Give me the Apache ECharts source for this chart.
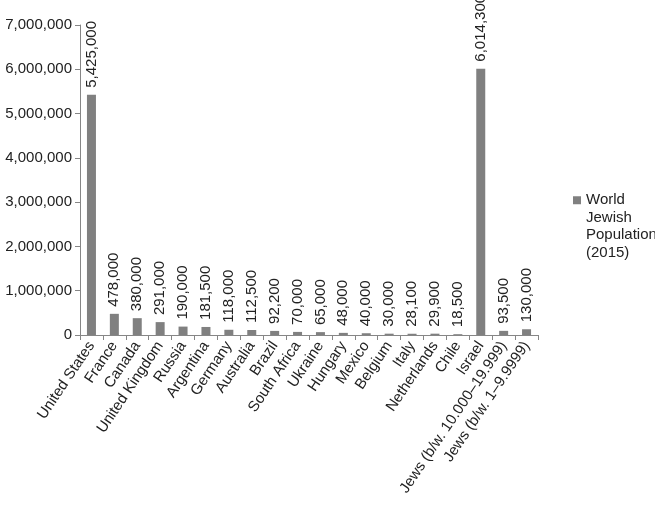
<!DOCTYPE html>
<html><head><meta charset="utf-8">
<script src="https://cdn.jsdelivr.net/npm/echarts@6/dist/echarts.min.js"></script>
<style>html,body{margin:0;padding:0;background:#fff}#c{width:655px;height:508px}</style>
</head><body><div id="c"></div>
<script>
const categories = ["United States","France","Canada","United Kingdom","Russia","Argentina","Germany","Australia","Brazil","South Africa","Ukraine","Hungary","Mexico","Belgium","Italy","Netherlands","Chile","Israel","Jews (b/w. 10.000\u201319.999)","Jews (b/w. 1\u20139.9999)"];
const population = [5425000,478000,380000,291000,190000,181500,118000,112500,92200,70000,65000,48000,40000,30000,28100,29900,18500,6014300,93500,130000];
const seriesName = "World Jewish Population (2015)";
const legendLines = ["World","Jewish","Population","(2015)"];
const yTicks = {min:0, max:7000000, interval:1000000};

const chart = echarts.init(document.getElementById('c'));
const font = 'Liberation Sans, Arial, sans-serif';
const fmt = v => v.toLocaleString('en-US');
chart.setOption({
  animation:false,
  textStyle:{fontFamily:font},
  grid:{left:80,right:117,top:25,bottom:173},
  legend:{
    left:568, top:134, itemWidth:8, itemHeight:8, itemGap:0,
    icon:'rect',
    formatter:()=>' \n \n \n'+legendLines.join('\n'),
    textStyle:{fontFamily:font,fontSize:15,color:'#222',lineHeight:17.5},
    data:[seriesName]
  },
  xAxis:{
    type:'category', data:categories,
    axisLine:{lineStyle:{color:'#868686'}},
    axisTick:{show:true,length:5,lineStyle:{color:'#868686'}},
    axisLabel:{interval:0,rotate:56,fontSize:15,color:'#222',fontFamily:font,margin:8}
  },
  yAxis:{
    type:'value', min:yTicks.min, max:yTicks.max, interval:yTicks.interval,
    splitLine:{show:false},
    axisLine:{show:true,lineStyle:{color:'#868686'}},
    axisTick:{show:true,length:5,lineStyle:{color:'#868686'}},
    axisLabel:{fontSize:15,color:'#222',fontFamily:font,margin:8,formatter:fmt}
  },
  series:[{
    name:seriesName, type:'bar', data:population, barWidth:9,
    itemStyle:{color:'#808080'},
    label:{show:true,position:'top',rotate:90,align:'left',verticalAlign:'middle',distance:7,
      fontSize:15,color:'#222',fontFamily:font,formatter:p=>fmt(p.value)}
  }]
});
</script></body></html>
